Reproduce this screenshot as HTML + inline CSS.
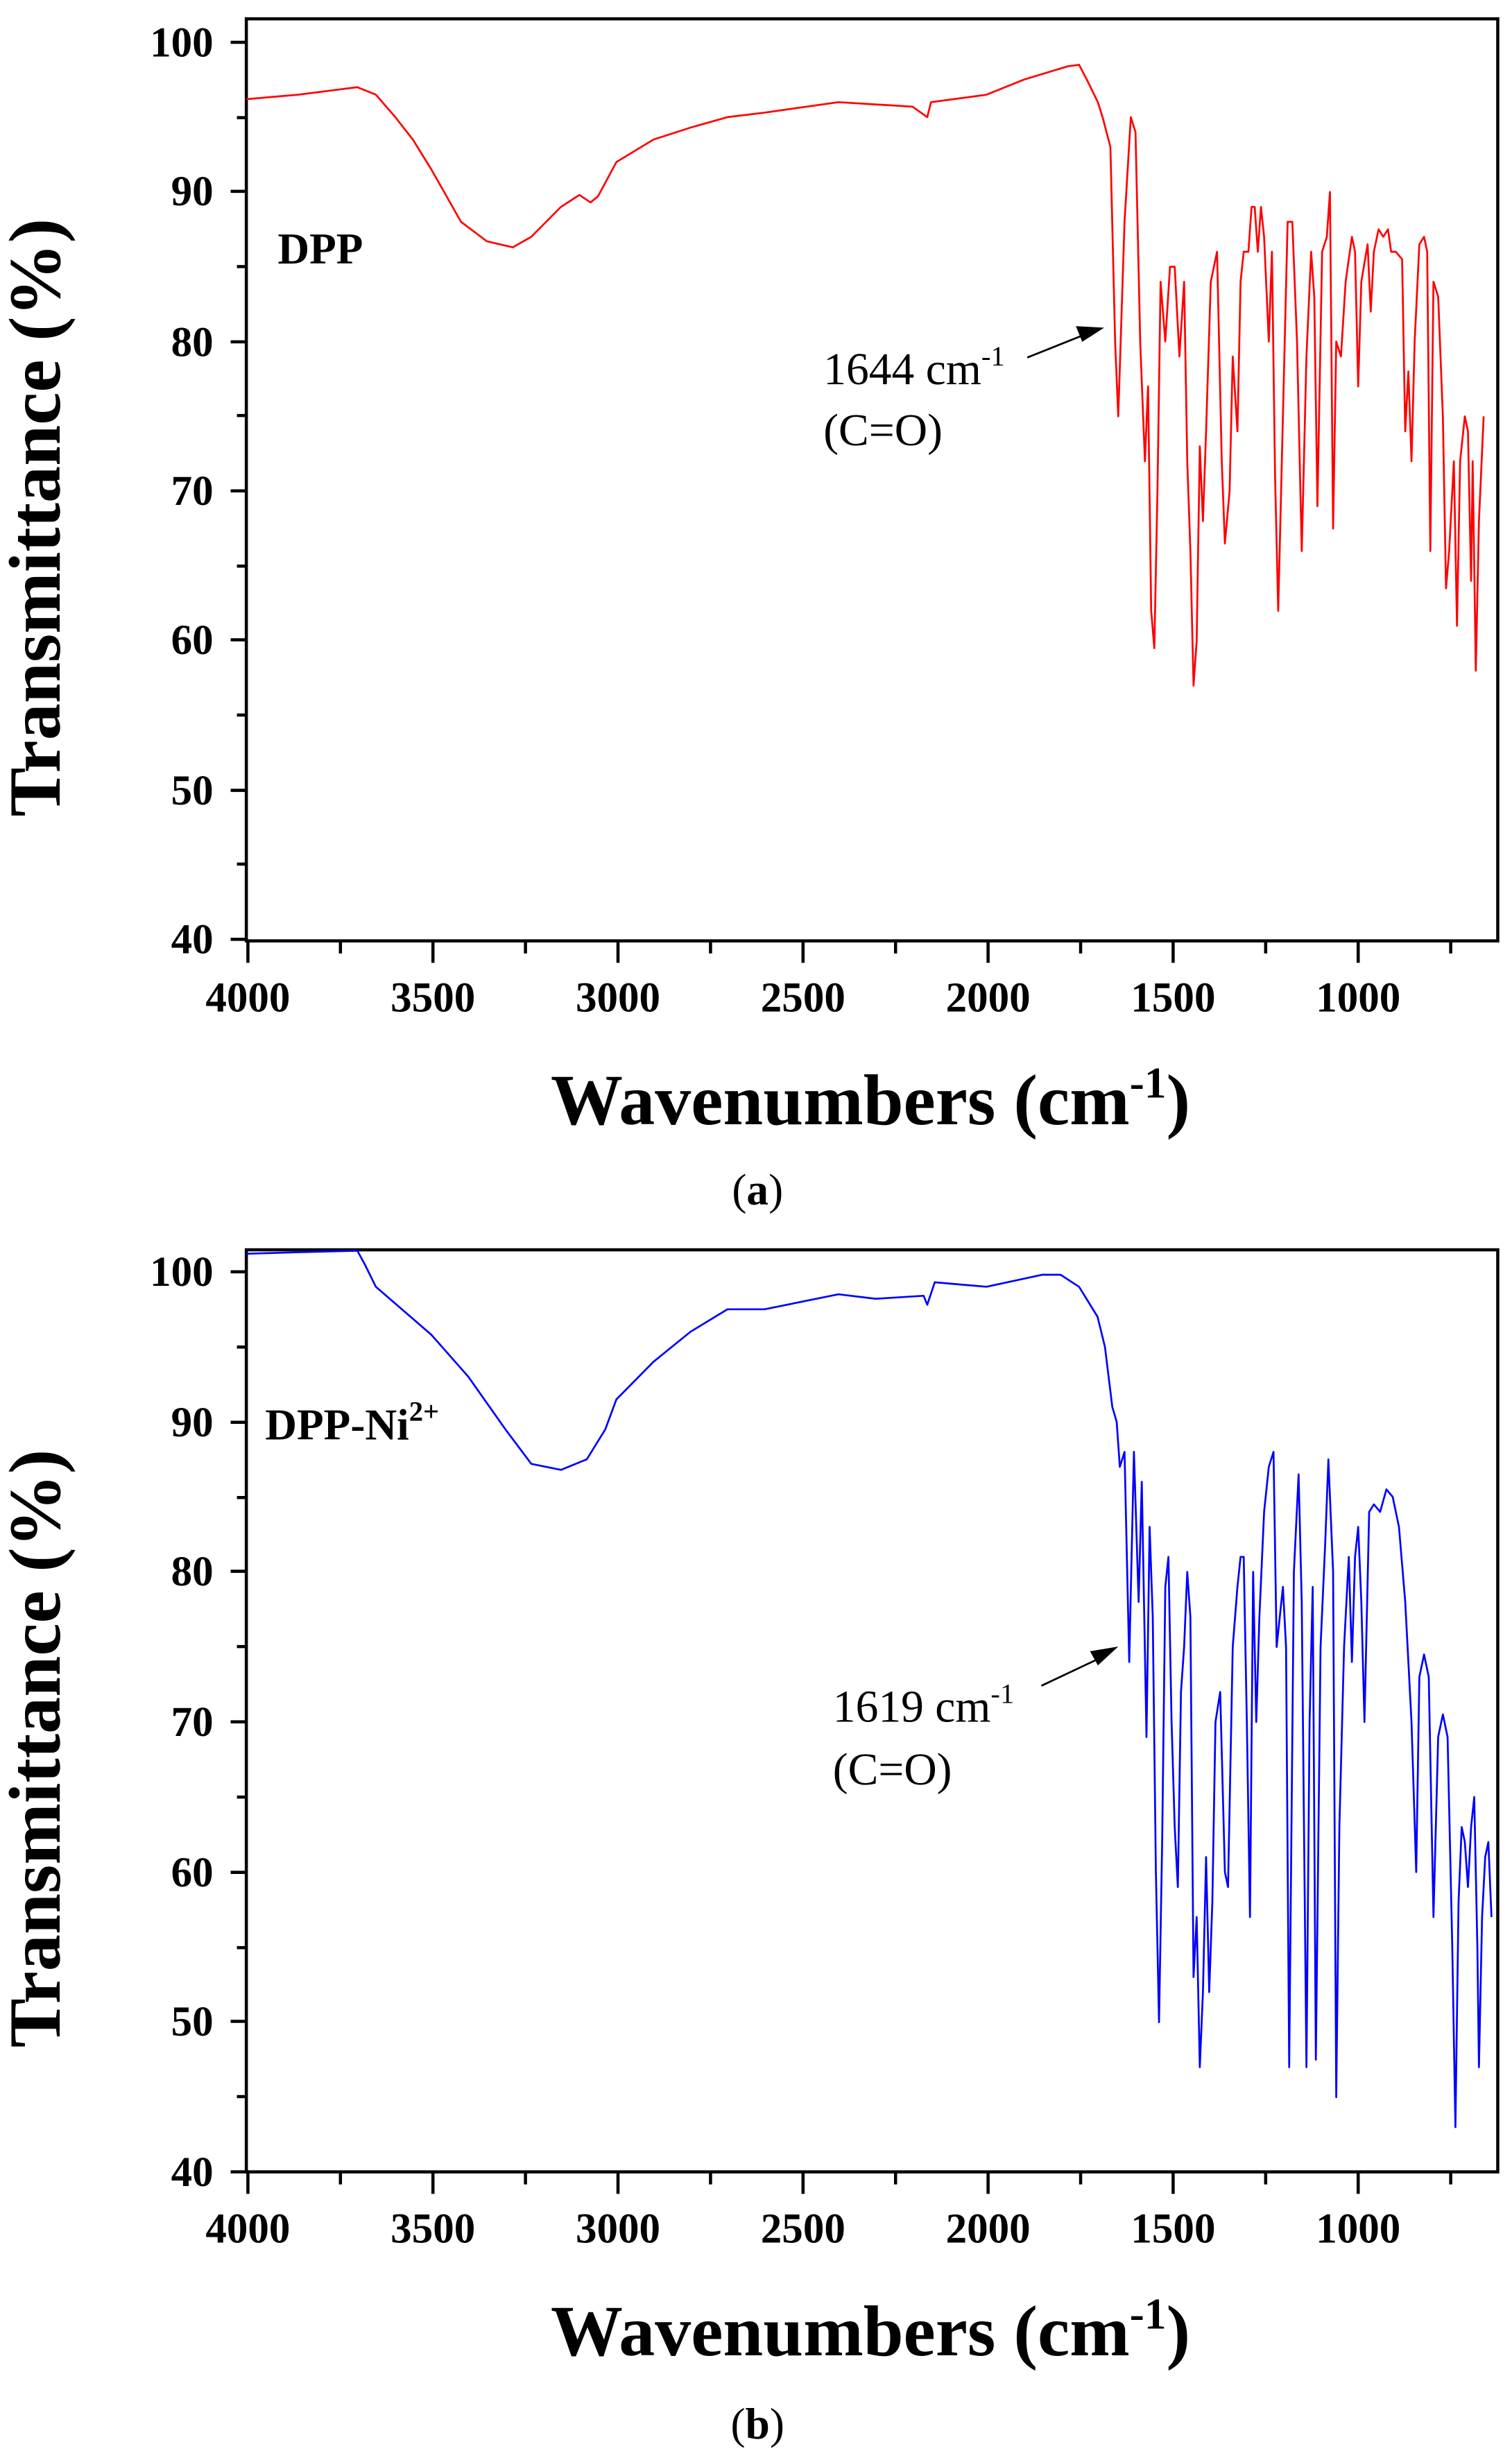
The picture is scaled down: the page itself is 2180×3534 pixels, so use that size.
<!DOCTYPE html>
<html><head><meta charset="utf-8"><style>html,body{margin:0;padding:0;background:#fff}svg{display:block}</style></head>
<body>
<svg width="2180" height="3534" viewBox="0 0 964 1563" xmlns="http://www.w3.org/2000/svg" font-family="Liberation Serif, serif">
<rect width="964" height="1563" fill="#fff"/>
<!-- Panel a -->
<g stroke="#000" stroke-width="2" fill="none">
<rect x="157" y="12" width="798" height="588"/>
<path d="M147,27H157M147,122H157M147,218H157M147,313H157M147,408H157M147,504H157M147,599H157M151,75H157M151,170H157M151,265H157M151,361H157M151,456H157M151,551H157"/>
<path d="M158,600V614M276,600V614M394,600V614M512,600V614M630,600V614M748,600V614M866,600V614M217,600V608M335,600V608M453,600V608M571,600V608M689,600V608M807,600V608M925,600V608"/>
</g>
<g font-weight="bold" font-size="27" text-anchor="end">
<text x="136" y="36">100</text><text x="136" y="131">90</text><text x="136" y="227">80</text><text x="136" y="322">70</text><text x="136" y="417">60</text><text x="136" y="513">50</text><text x="136" y="608">40</text>
</g>
<g font-weight="bold" font-size="27" text-anchor="middle">
<text x="158" y="645">4000</text><text x="276" y="645">3500</text><text x="394" y="645">3000</text><text x="512" y="645">2500</text><text x="630" y="645">2000</text><text x="748" y="645">1500</text><text x="866" y="645">1000</text>
</g>
<text x="555" y="717" font-weight="bold" font-size="46" text-anchor="middle">Wavenumbers (cm<tspan dy="-17" font-size="28">-1</tspan><tspan dy="17">)</tspan></text>
<text x="483" y="768" font-size="28" text-anchor="middle">(<tspan font-weight="bold">a</tspan>)</text>
<text transform="translate(38,330) rotate(-90)" font-weight="bold" font-size="47" text-anchor="middle">Transmittance (%)</text>
<text x="177" y="168" font-weight="bold" font-size="28">DPP</text>
<text x="525" y="245" font-size="29">1644 cm<tspan dy="-12" font-size="18">-1</tspan></text>
<text x="525" y="284" font-size="29">(C=O)</text>
<line x1="655" y1="228" x2="690" y2="214" stroke="#000" stroke-width="1.2"/>
<polygon points="704,209 686,208 690,218" fill="#000"/>
<g transform="matrix(1 0 0 -9.54 0 981)">
<polyline fill="none" stroke="#ff0000" stroke-width="2.7" vector-effect="non-scaling-stroke" stroke-linejoin="round" points="157,96.2 190,96.5 227.8,97 239.6,96.5 252,95 263.2,93.5 275,91.5 293.9,88 310.4,86.7 326.9,86.3 338.7,87 357.6,89 369.4,89.8 376.5,89.3 381.2,89.7 393,92 416.6,93.5 440.2,94.3 463.8,95 487.4,95.3 534.6,96 581.8,95.7 591.2,95 593.6,96 629,96.5 652.6,97.5 680.9,98.4 688,98.5 693,97.5 700,96 703,95 708,93 711,80 713,75 717,88 721,95 724,94 727,80 730,72 732,77 734,62 736,59.5 738,70 740,84 743,80 746,85 749,85 752,79 755,84 757,72 759,66 761,57 763,60 765,73 767,68 769,74 772,84 776,86 779,72 781,66.5 784,70 786,79 789,74 791,84 793,86 796,86 798,89 800,89 802,86 804,89 806,87 809,80 811,86 813,71 815,62 818,75 821,88 824,88 827,80 830,66 833,79 836,86 838,83 840,69 843,86 846,87 848,90 850,67.5 852,80 855,79 858,84 862,87 864,86 866,77 868,84 872,86.5 874,82 876,86 879,87.5 882,87 885,87.5 887,86 890,86 894,85.5 896,74 898,78 900,72 902,80 905,86.5 908,87 910,86 912,66 914,84 917,83 920,75 922,63.5 924,66 927,72 929,61 931,72 934,75 936,74 938,64 939,72 941,58 943,68 946,75"/>
</g>
<!-- Panel b -->
<g stroke="#000" stroke-width="2" fill="none">
<rect x="157" y="797" width="798" height="588"/>
<path d="M147,811H157M147,907H157M147,1002H157M147,1098H157M147,1194H157M147,1289H157M147,1385H157M151,859H157M151,955H157M151,1050H157M151,1146H157M151,1242H157M151,1337H157"/>
<path d="M158,1385V1399M276,1385V1399M394,1385V1399M512,1385V1399M630,1385V1399M748,1385V1399M866,1385V1399M217,1385V1393M335,1385V1393M453,1385V1393M571,1385V1393M689,1385V1393M807,1385V1393M925,1385V1393"/>
</g>
<g font-weight="bold" font-size="27" text-anchor="end">
<text x="136" y="820">100</text><text x="136" y="916">90</text><text x="136" y="1011">80</text><text x="136" y="1107">70</text><text x="136" y="1203">60</text><text x="136" y="1298">50</text><text x="136" y="1394">40</text>
</g>
<g font-weight="bold" font-size="27" text-anchor="middle">
<text x="158" y="1430">4000</text><text x="276" y="1430">3500</text><text x="394" y="1430">3000</text><text x="512" y="1430">2500</text><text x="630" y="1430">2000</text><text x="748" y="1430">1500</text><text x="866" y="1430">1000</text>
</g>
<text x="555" y="1502" font-weight="bold" font-size="46" text-anchor="middle">Wavenumbers (cm<tspan dy="-17" font-size="28">-1</tspan><tspan dy="17">)</tspan></text>
<text x="483" y="1555" font-size="28" text-anchor="middle">(<tspan font-weight="bold">b</tspan>)</text>
<text transform="translate(38,1115) rotate(-90)" font-weight="bold" font-size="47" text-anchor="middle">Transmittance (%)</text>
<text x="169" y="918" font-weight="bold" font-size="28">DPP-Ni<tspan dy="-12" font-size="18">2+</tspan></text>
<text x="531" y="1098" font-size="29">1619 cm<tspan dy="-12" font-size="18">-1</tspan></text>
<text x="531" y="1138" font-size="29">(C=O)</text>
<line x1="664" y1="1075" x2="700" y2="1058" stroke="#000" stroke-width="1.2"/>
<polygon points="713,1050 695,1053 700,1062" fill="#000"/>
<g transform="matrix(1 0 0 -9.57 0 1768)">
<polyline fill="none" stroke="#0000ff" stroke-width="2.7" vector-effect="non-scaling-stroke" stroke-linejoin="round" points="157,101.2 190,101.3 227.8,101.4 232.5,100.5 239.6,99 275,95.8 298.6,93 322.2,89.5 338.7,87.2 357.6,86.8 374.1,87.5 385.9,89.5 393,91.5 416.6,94 440.2,96 463.8,97.5 487.4,97.5 534.6,98.5 558.2,98.2 588.9,98.4 591.2,97.8 596,99.3 629,99 664.4,99.8 676.2,99.8 688,99 699.8,97 704.5,95 709.2,91 712,90 714,87 717,88 720,74 723,88 726,78 728,86 731,69 733,83 735,77 737,60 739,50 741,62 743,79 745,81 747,70 749,63 751,59 753,72 755,75 757,80 759,77 761,53 763,57 765,47 767,52 769,61 771,52 773,58 775,70 778,72 781,60 783,59 786,75 789,79 791,81 793,81 795,70 797,57 799,80 801,70 803,77 806,84 809,87 812,88 814,75 816,77 818,79 820,75 822,47 825,80 828,86.5 830,78 833,47 835,70 837,79 839,47.5 842,75 845,82 847,87.5 850,80 852,45 854,63 857,75 860,81 862,74 864,81 866,83 868,78 870,70 873,84 876,84.5 880,84 884,85.5 888,85 892,83 896,78 900,70 903,60 905,73 908,74.5 911,73 914,57 917,69 920,70.5 923,69 926,55 928,43 930,58 932,63 934,62 936,59 938,63 940,65 942,55 943,47 945,57 947,61 949,62 951,57"/>
</g>
</svg>
</body></html>
